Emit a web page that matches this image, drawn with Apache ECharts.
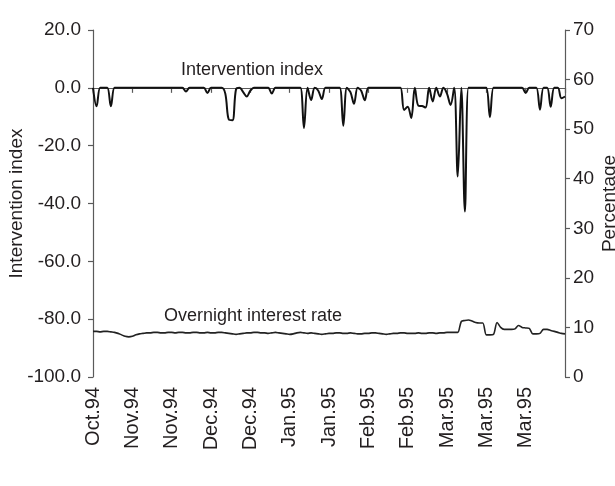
<!DOCTYPE html>
<html>
<head>
<meta charset="utf-8">
<script src="https://cdn.jsdelivr.net/npm/echarts@6/dist/echarts.min.js"></script>
<style>
  html, body { margin: 0; padding: 0; background: #fff; overflow: hidden; }
  #chart { width: 615px; height: 486px; }
</style>
</head>
<body>
<div id="chart"></div>
<script>
// Daily observations, Oct 1994 - Mar 1995 (one entry per trading day)
const tickLabels = ['Oct.94', 'Nov.94', 'Nov.94', 'Dec.94', 'Dec.94', 'Jan.95',
                    'Jan.95', 'Feb.95', 'Feb.95', 'Mar.95', 'Mar.95', 'Mar.95'];

const interventionIndex = [
  0, -6.4, 0, 0, 0, -6.4, 0, 0, 0, 0,            // 0-9
  0, 0, 0, 0, 0, 0, 0, 0, 0, 0,                  // 10-19
  0, 0, 0, 0, 0, 0, -1.3, 0, 0, 0,               // 20-29
  0, 0, -1.8, 0, 0, 0, 0, -2, -11, -11.2,        // 30-39
  -0.5, 0, -1.5, -3, -1, 0, 0, 0, 0, 0,          // 40-49
  -2, 0, 0, 0, 0, 0, 0, 0, 0, -13.9,             // 50-59
  0, -4.2, 0, -1, -3.9, 0, 0, 0, 0, 0,           // 60-69
  -13.1, 0, -1.5, -5.5, 0, -1, -4.3, 0, 0, 0,    // 70-79
  0, 0, 0, 0, 0, 0, 0, -7.7, -6.5, -10.4,        // 80-89
  0, -6.2, -6.3, -6.8, 0, -4.7, 0, -3, 0, -2,    // 90-99
  -5.9, 0, -30.7, 0, -42.8, 0, 0, 0, 0, 0,       // 100-109
  0, -10.2, 0, 0, 0, 0, 0, 0, 0, 0,              // 110-119
  0, -1.8, 0, 0, 0, -7.6, 0, 0, -6.5, 0,         // 120-129
  0, -3.6, -3                                    // 130-132
];

const overnightRate = [
  9.2, 9.2, 9.1, 9.2, 9.2, 9.1, 9.0, 8.8, 8.5, 8.2,
  8.1, 8.2, 8.5, 8.7, 8.8, 8.9, 8.9, 9.0, 9.0, 8.9,
  8.9, 9.0, 9.0, 8.9, 9.0, 9.0, 8.9, 8.9, 9.0, 9.0,
  8.9, 8.9, 9.0, 8.9, 8.9, 9.0, 9.0, 8.9, 8.8, 8.7,
  8.6, 8.7, 8.8, 8.9, 8.9, 9.0, 9.0, 8.9, 8.9, 8.8,
  8.9, 9.0, 8.9, 8.8, 8.7, 8.6, 8.7, 8.9, 9.0, 8.9,
  8.8, 8.9, 8.8, 8.7, 8.6, 8.7, 8.8, 8.8, 8.9, 8.9,
  8.8, 8.8, 8.9, 8.8, 8.7, 8.7, 8.8, 8.8, 8.9, 8.9,
  8.8, 8.7, 8.6, 8.7, 8.8, 8.8, 8.9, 8.9, 8.8, 8.8,
  8.8, 8.9, 8.8, 8.8, 8.9, 8.9, 8.8, 8.9, 8.9, 9.0,
  9.0, 9.0, 9.0, 11.2, 11.4, 11.5, 11.3, 11.0, 10.9, 10.9,
  8.5, 8.5, 8.6, 11.0, 10.0, 9.6, 9.6, 9.6, 9.7, 10.4,
  10.0, 9.9, 9.8, 8.7, 8.7, 8.8, 9.6, 9.6, 9.4, 9.2,
  9.0, 8.8, 8.7
];

const labelStep = 11;
const lastDay = interventionIndex.length - 1;

const FONT = "'Liberation Sans', Arial, sans-serif";
const FONT_SIZE = 19;
const INK = '#231f20';
const AXIS = '#5a5a5a';

const axisCommon = {
  axisLine: { show: true, lineStyle: { color: AXIS, width: 1.2 } },
  axisTick: { show: true, inside: false, length: 5, lineStyle: { color: AXIS, width: 1.2 } },
  splitLine: { show: false },
  axisLabel: { color: INK, fontSize: FONT_SIZE, fontFamily: FONT }
};

const chart = echarts.init(document.getElementById('chart'), null, { renderer: 'canvas' });

chart.setOption({
  animation: false,
  backgroundColor: '#ffffff',
  grid: {
    left: 93, right: 50, top: 30, bottom: 109,
    containLabel: false,
    outerBoundsMode: 'none'
  },
  xAxis: {
    type: 'value',
    min: 0,
    max: lastDay,
    interval: labelStep,
    ...axisCommon,
    axisLabel: {
      ...axisCommon.axisLabel,
      fontSize: 20,
      rotate: 90,
      margin: 10,
      formatter: v => tickLabels[Math.round(v / labelStep)] || ''
    }
  },
  yAxis: [
    {
      type: 'value',
      min: -100, max: 20, interval: 20,
      position: 'left',
      name: 'Intervention index',
      nameLocation: 'middle',
      nameRotate: 90,
      nameGap: 67,
      nameMoveOverlap: false,
      nameTextStyle: { color: INK, fontSize: FONT_SIZE, fontFamily: FONT },
      ...axisCommon,
      axisLabel: { ...axisCommon.axisLabel, margin: 12, formatter: v => v.toFixed(1) }
    },
    {
      type: 'value',
      min: 0, max: 70, interval: 10,
      position: 'right',
      name: 'Percentage',
      nameLocation: 'middle',
      nameRotate: 90,
      nameGap: 35,
      nameMoveOverlap: false,
      nameTextStyle: { color: INK, fontSize: FONT_SIZE, fontFamily: FONT },
      ...axisCommon,
      axisLabel: { ...axisCommon.axisLabel, margin: 8 }
    }
  ],
  series: [
    {
      name: 'Intervention index',
      type: 'line',
      yAxisIndex: 0,
      data: interventionIndex.map((v, i) => [i, v]),
      showSymbol: false,
      smooth: 0.35,
      lineStyle: { color: '#111', width: 2 }
    },
    {
      name: 'Overnight interest rate',
      type: 'line',
      yAxisIndex: 1,
      data: overnightRate.map((v, i) => [i, v]),
      showSymbol: false,
      smooth: 0.3,
      lineStyle: { color: '#222', width: 1.6 }
    }
  ],
  graphic: [
    {
      type: 'text',
      left: 181, top: 61,
      style: { text: 'Intervention index', fill: INK, font: '18px ' + FONT }
    },
    {
      type: 'text',
      left: 164, top: 307,
      style: { text: 'Overnight interest rate', fill: INK, font: '18px ' + FONT }
    }
  ]
});
</script>
</body>
</html>
